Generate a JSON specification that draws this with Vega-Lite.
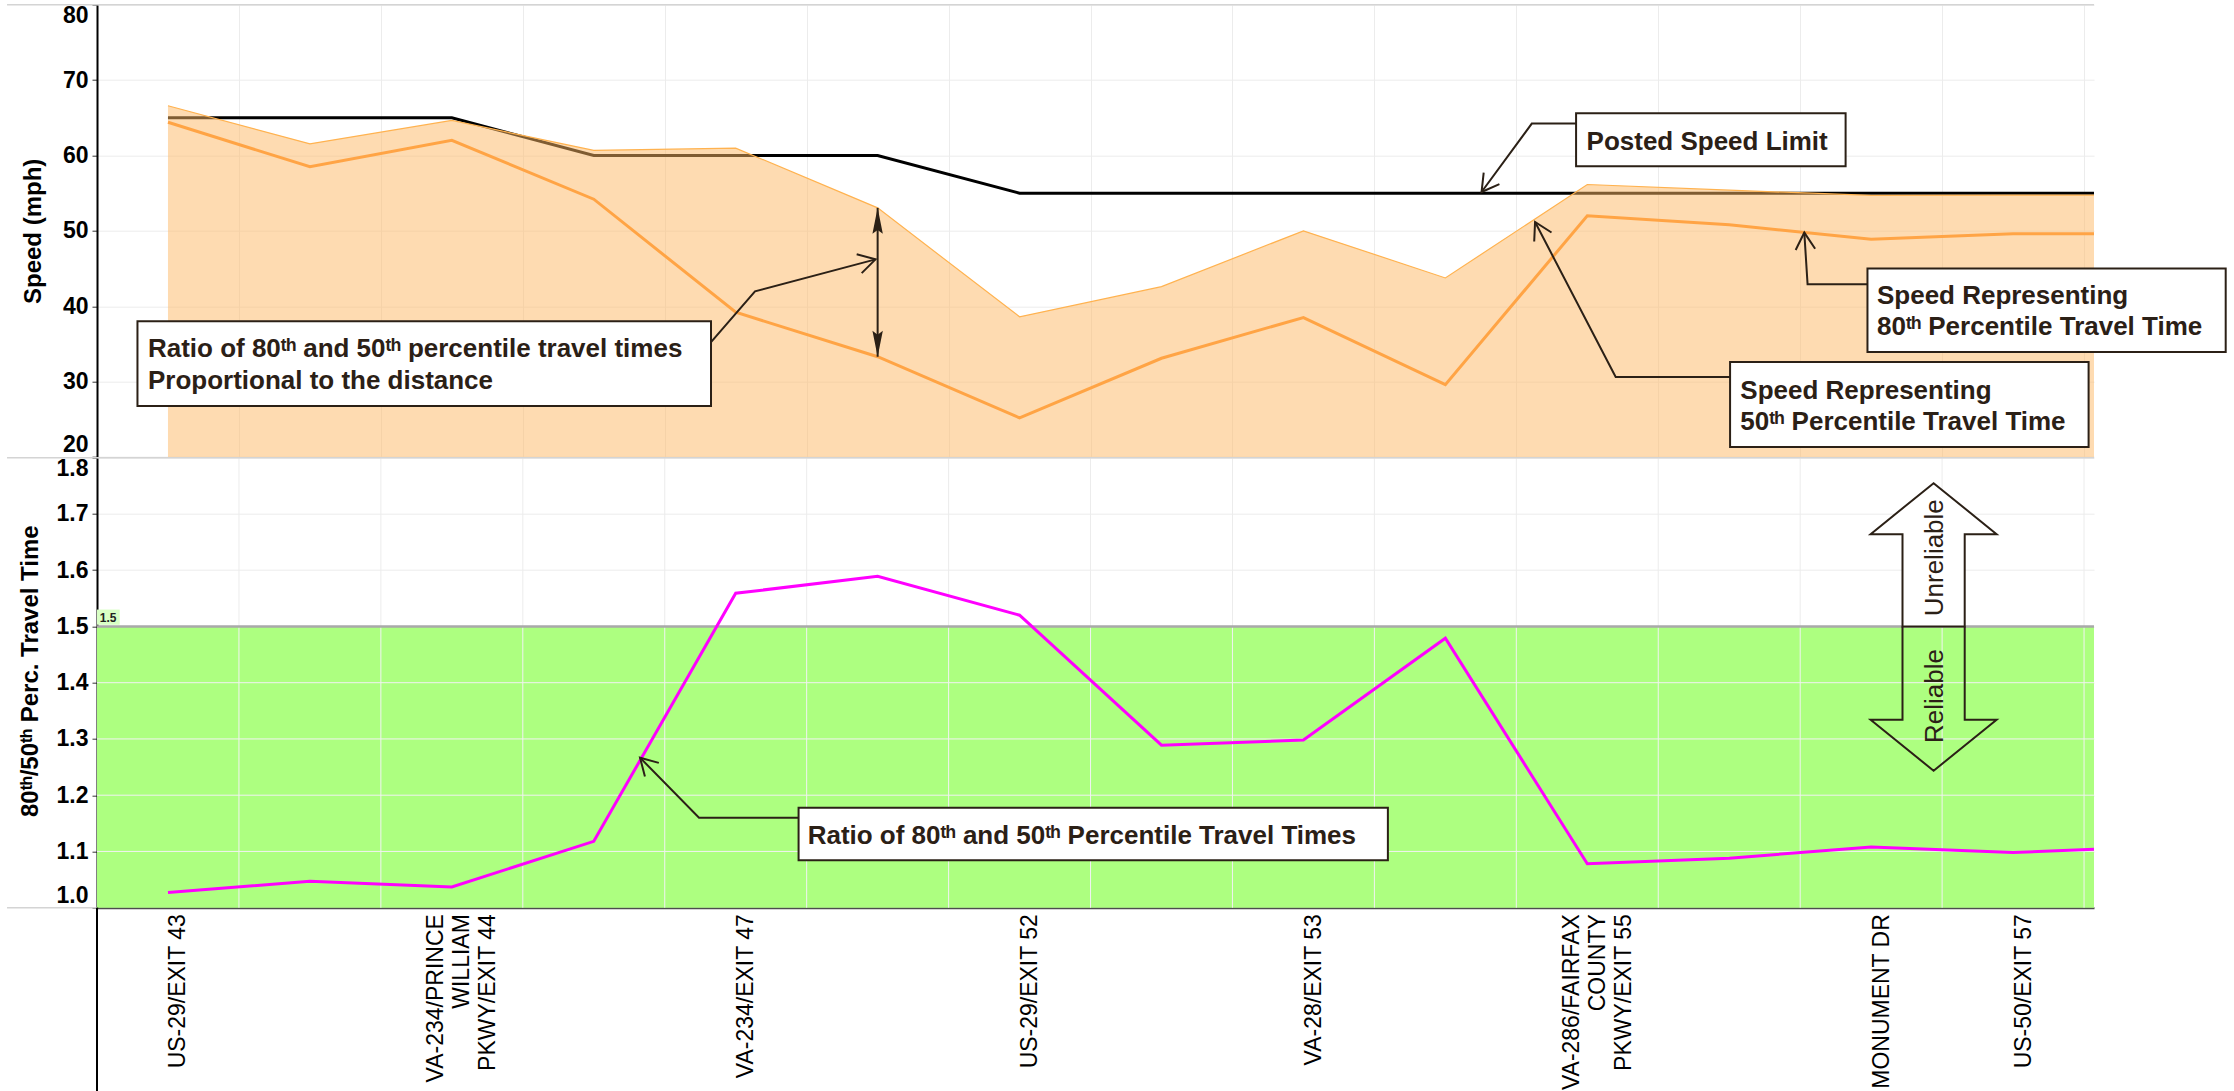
{
  "$schema": "https://vega.github.io/schema/vega-lite/v6.json",
  "background": "white",
  "padding": {"left": 6, "top": 3.7, "right": 6, "bottom": 0},
  "spacing": 0,
  "bounds": "flush",
  "config": {
    "view": {"stroke": null},
    "font": "Liberation Sans",
    "axis": {"labelFont": "Liberation Sans", "titleFont": "Liberation Sans", "labelColor": "#000000", "titleColor": "#000000"}
  },
  "datasets": {
    "speed": [
      {"pos": 0, "limit": 65, "s50": 66.6, "s80": 64.4, "ratio": 1.027},
      {"pos": 1, "limit": 65, "s50": 61.55, "s80": 58.5, "ratio": 1.047},
      {"pos": 2, "limit": 65, "s50": 64.65, "s80": 62.0, "ratio": 1.037},
      {"pos": 3, "limit": 60, "s50": 60.67, "s80": 54.2, "ratio": 1.118},
      {"pos": 4, "limit": 60, "s50": 60.97, "s80": 39.2, "ratio": 1.559},
      {"pos": 5, "limit": 60, "s50": 53.05, "s80": 33.3, "ratio": 1.589},
      {"pos": 6, "limit": 55, "s50": 38.6, "s80": 25.2, "ratio": 1.52},
      {"pos": 7, "limit": 55, "s50": 42.6, "s80": 33.1, "ratio": 1.289},
      {"pos": 8, "limit": 55, "s50": 50.0, "s80": 38.5, "ratio": 1.298},
      {"pos": 9, "limit": 55, "s50": 43.75, "s80": 29.6, "ratio": 1.479},
      {"pos": 10, "limit": 55, "s50": 56.15, "s80": 52.0, "ratio": 1.078},
      {"pos": 11, "limit": 55, "s50": 55.4, "s80": 50.8, "ratio": 1.088},
      {"pos": 12, "limit": 55, "s50": 54.7, "s80": 48.9, "ratio": 1.108},
      {"pos": 13, "limit": 55, "s50": 54.75, "s80": 49.6, "ratio": 1.098},
      {"pos": 13.57, "limit": 55, "s50": 54.75, "s80": 49.6, "ratio": 1.104}
    ],
    "vgrid": [
      {"g": 0.5}, {"g": 1.5}, {"g": 2.5}, {"g": 3.5}, {"g": 4.5}, {"g": 5.5}, {"g": 6.5},
      {"g": 7.5}, {"g": 8.5}, {"g": 9.5}, {"g": 10.5}, {"g": 11.5}, {"g": 12.5}, {"g": 13.5}
    ],
    "hgrid": [{"g": 1.1}, {"g": 1.2}, {"g": 1.3}, {"g": 1.4}],
    "boxesTop": [
      {"x1": 9.921, "x2": 11.82, "y1": 65.59, "y2": 58.56},
      {"x1": 11.974, "x2": 14.498, "y1": 44.99, "y2": 33.93},
      {"x1": 11.006, "x2": 13.532, "y1": 32.6, "y2": 21.32},
      {"x1": -0.215, "x2": 3.826, "y1": 38.0, "y2": 26.76}
    ],
    "textTop": [
      {"x": 9.995, "y": 60.68, "t": "Posted Speed Limit"},
      {"x": 12.041, "y": 40.25, "t": "Speed Representing"},
      {"x": 12.041, "y": 36.14, "t": "80\u1d57\u02b0 Percentile Travel Time"},
      {"x": 11.078, "y": 27.74, "t": "Speed Representing"},
      {"x": 11.078, "y": 23.54, "t": "50\u1d57\u02b0 Percentile Travel Time"},
      {"x": -0.141, "y": 33.26, "t": "Ratio of 80\u1d57\u02b0 and 50\u1d57\u02b0 percentile travel times"},
      {"x": -0.141, "y": 29.07, "t": "Proportional to the distance"}
    ],
    "leadersTop": [
      {"id": "P", "o": 0, "x": 9.921, "y": 64.23},
      {"id": "P", "o": 1, "x": 9.609, "y": 64.23},
      {"id": "P", "o": 2, "x": 9.255, "y": 55.15},
      {"id": "A", "o": 0, "x": 11.974, "y": 42.91},
      {"id": "A", "o": 1, "x": 11.552, "y": 42.91},
      {"id": "A", "o": 2, "x": 11.529, "y": 49.77},
      {"id": "B", "o": 0, "x": 11.006, "y": 30.61},
      {"id": "B", "o": 1, "x": 10.2, "y": 30.61},
      {"id": "B", "o": 2, "x": 9.632, "y": 51.17},
      {"id": "R", "o": 0, "x": 3.826, "y": 35.25},
      {"id": "R", "o": 1, "x": 4.136, "y": 41.98},
      {"id": "R", "o": 2, "x": 4.985, "y": 46.22}
    ],
    "headsTop": [
      {"x": 9.255, "y": 55.15, "dir": 216.3},
      {"x": 11.529, "y": 49.77, "dir": 356.3},
      {"x": 9.632, "y": 51.17, "dir": 332.5},
      {"x": 4.985, "y": 46.22, "dir": 75.1}
    ],
    "boxesBottom": [{"x1": 4.443, "x2": 8.595, "y1": 1.1778, "y2": 1.0843}],
    "textBottom": [{"x": 4.507, "y": 1.1138, "t": "Ratio of 80\u1d57\u02b0 and 50\u1d57\u02b0 Percentile Travel Times"}],
    "leadersBottom": [
      {"id": "Q", "o": 0, "x": 4.443, "y": 1.16},
      {"id": "Q", "o": 1, "x": 3.7415, "y": 1.16},
      {"id": "Q", "o": 2, "x": 3.326, "y": 1.2667}
    ],
    "headsBottom": [{"x": 3.326, "y": 1.2667, "dir": 315.5}],
    "arrowText": [
      {"x": 12.45, "y": 1.6222, "t": "Unreliable"},
      {"x": 12.45, "y": 1.3764, "t": "Reliable"}
    ]
  },
  "vconcat": [
    {
      "width": 1997,
      "height": 452.3,
      "layer": [
        {
          "data": {"name": "speed"},
          "mark": {"type": "line", "color": "#000000", "strokeWidth": 3},
          "encoding": {
            "x": {"field": "pos", "type": "quantitative",
              "scale": {"domain": [-0.5, 13.57], "nice": false, "zero": false},
              "axis": {"title": null, "values": [0.5, 1.5, 2.5, 3.5, 4.5, 5.5, 6.5, 7.5, 8.5, 9.5, 10.5, 11.5, 12.5, 13.5],
                "labels": false, "ticks": false, "domain": false, "grid": true, "gridColor": "#ececec", "gridWidth": 1}},
            "y": {"field": "limit", "type": "quantitative",
              "scale": {"domain": [20, 80], "nice": false, "zero": false},
              "axis": {"title": "Speed (mph)", "values": [20, 30, 40, 50, 60, 70, 80], "grid": true, "gridColor": "#ececec",
                "labelFlush": true, "labelFontSize": 23, "labelFontWeight": "bold", "labelPadding": 4,
                "tickSize": 5, "tickColor": "#333333", "domainColor": "#000000", "domainWidth": 2,
                "titleFontSize": 24, "titleFontWeight": "bold", "titlePadding": 17}}
          }
        },
        {
          "data": {"name": "speed"},
          "mark": {"type": "area", "fill": "#fdb863", "fillOpacity": 0.5, "line": {"color": "#ffb24f", "strokeWidth": 1.2}},
          "encoding": {
            "x": {"field": "pos", "type": "quantitative"},
            "y": {"field": "s50", "type": "quantitative"},
            "y2": {"datum": 20}
          }
        },
        {
          "data": {"name": "speed"},
          "mark": {"type": "line", "color": "#ffa445", "strokeWidth": 3},
          "encoding": {
            "x": {"field": "pos", "type": "quantitative"},
            "y": {"field": "s80", "type": "quantitative"}
          }
        },
        {
          "data": {"values": [{}]},
          "mark": {"type": "rule", "color": "#d4d4d4", "strokeWidth": 1.5},
          "encoding": {
            "x": {"datum": -1.134, "type": "quantitative"},
            "x2": {"datum": 13.57},
            "y": {"datum": 80, "type": "quantitative"}
          }
        },
        {
          "data": {"name": "speed"},
          "transform": [{"filter": "datum.pos == 5"}],
          "mark": {"type": "rule", "color": "#2b2016", "strokeWidth": 2},
          "encoding": {
            "x": {"field": "pos", "type": "quantitative"},
            "y": {"field": "s50", "type": "quantitative"},
            "y2": {"field": "s80"}
          }
        },
        {
          "data": {"name": "speed"},
          "transform": [{"filter": "datum.pos == 5"}],
          "mark": {"type": "point", "shape": "M0,0L0.4,2L0,1.7L-0.4,2Z", "size": 676, "filled": true, "color": "#2b2016", "opacity": 1, "angle": 0},
          "encoding": {
            "x": {"field": "pos", "type": "quantitative"},
            "y": {"field": "s50", "type": "quantitative"}
          }
        },
        {
          "data": {"name": "speed"},
          "transform": [{"filter": "datum.pos == 5"}],
          "mark": {"type": "point", "shape": "M0,0L0.4,2L0,1.7L-0.4,2Z", "size": 676, "filled": true, "color": "#2b2016", "opacity": 1, "angle": 180},
          "encoding": {
            "x": {"field": "pos", "type": "quantitative"},
            "y": {"field": "s80", "type": "quantitative"}
          }
        },
        {
          "data": {"name": "leadersTop"},
          "mark": {"type": "line", "color": "#2b2016", "strokeWidth": 2},
          "encoding": {
            "x": {"field": "x", "type": "quantitative"},
            "y": {"field": "y", "type": "quantitative"},
            "detail": {"field": "id"},
            "order": {"field": "o"}
          }
        },
        {
          "data": {"name": "headsTop"},
          "mark": {"type": "point", "shape": "M-0.5,0.866L0,0L0.5,0.866", "size": 1521, "filled": false, "stroke": "#2b2016", "strokeWidth": 2, "opacity": 1},
          "encoding": {
            "x": {"field": "x", "type": "quantitative"},
            "y": {"field": "y", "type": "quantitative"},
            "angle": {"field": "dir", "type": "quantitative", "scale": null}
          }
        },
        {
          "data": {"name": "boxesTop"},
          "mark": {"type": "rect", "fill": "#ffffff", "stroke": "#2b2016", "strokeWidth": 2},
          "encoding": {
            "x": {"field": "x1", "type": "quantitative"},
            "x2": {"field": "x2"},
            "y": {"field": "y1", "type": "quantitative"},
            "y2": {"field": "y2"}
          }
        },
        {
          "data": {"name": "textTop"},
          "mark": {"type": "text", "align": "left", "baseline": "alphabetic", "fontSize": 26, "fontWeight": "bold", "font": "Liberation Sans", "color": "#2b2016"},
          "encoding": {
            "x": {"field": "x", "type": "quantitative"},
            "y": {"field": "y", "type": "quantitative"},
            "text": {"field": "t"}
          }
        }
      ]
    },
    {
      "width": 1997,
      "height": 450,
      "layer": [
        {
          "data": {"values": [{}]},
          "mark": {"type": "rect", "fill": "#adff80"},
          "encoding": {
            "x": {"datum": -0.5, "type": "quantitative"},
            "x2": {"datum": 13.57},
            "y": {"datum": 1.0, "type": "quantitative"},
            "y2": {"datum": 1.5}
          }
        },
        {
          "data": {"name": "vgrid"},
          "mark": {"type": "rule", "color": "#ececec", "strokeWidth": 1},
          "encoding": {
            "x": {"field": "g", "type": "quantitative"},
            "y": {"datum": 1.5, "type": "quantitative"},
            "y2": {"datum": 1.8}
          }
        },
        {
          "data": {"name": "vgrid"},
          "mark": {"type": "rule", "color": "#f2f2f2", "strokeWidth": 1},
          "encoding": {
            "x": {"field": "g", "type": "quantitative"},
            "y": {"datum": 1.0, "type": "quantitative"},
            "y2": {"datum": 1.5}
          }
        },
        {
          "data": {"name": "hgrid"},
          "mark": {"type": "rule", "color": "#f2f2f2", "strokeWidth": 1},
          "encoding": {
            "y": {"field": "g", "type": "quantitative"},
            "x": {"datum": -0.5, "type": "quantitative"},
            "x2": {"datum": 13.57}
          }
        },
        {
          "data": {"values": [{}]},
          "mark": {"type": "rule", "color": "#a9a9a9", "strokeWidth": 2.5},
          "encoding": {
            "y": {"datum": 1.5, "type": "quantitative"},
            "x": {"datum": -0.5, "type": "quantitative"},
            "x2": {"datum": 13.57}
          }
        },
        {
          "data": {"values": [{}]},
          "mark": {"type": "rect", "fill": "#d8ffc4"},
          "encoding": {
            "x": {"datum": -0.5, "type": "quantitative"},
            "x2": {"datum": -0.34},
            "y": {"datum": 1.503, "type": "quantitative"},
            "y2": {"datum": 1.53}
          }
        },
        {
          "data": {"values": [{}]},
          "mark": {"type": "text", "text": "1.5", "align": "left", "baseline": "alphabetic", "fontSize": 12, "fontWeight": "bold", "color": "#222222"},
          "encoding": {
            "x": {"datum": -0.48, "type": "quantitative"},
            "y": {"datum": 1.508, "type": "quantitative"}
          }
        },
        {
          "data": {"values": [{}]},
          "mark": {"type": "rule", "color": "#d4d4d4", "strokeWidth": 1.5},
          "encoding": {
            "x": {"datum": -1.134, "type": "quantitative"},
            "x2": {"datum": 13.57},
            "y": {"datum": 1.8, "type": "quantitative"}
          }
        },
        {
          "data": {"values": [{}]},
          "mark": {"type": "rule", "color": "#d4d4d4", "strokeWidth": 1.5},
          "encoding": {
            "x": {"datum": -1.134, "type": "quantitative"},
            "x2": {"datum": -0.5},
            "y": {"datum": 1.0, "type": "quantitative"}
          }
        },
        {
          "data": {"name": "speed"},
          "mark": {"type": "line", "color": "#ff00ff", "strokeWidth": 3},
          "encoding": {
            "x": {"field": "pos", "type": "quantitative",
              "scale": {"domain": [-0.5, 13.57], "nice": false, "zero": false},
              "axis": {"title": null, "values": [0, 2, 4, 6, 8, 10, 12, 13], "grid": false, "ticks": false, "tickSize": 0,
                "domain": true, "domainColor": "#4d4d4d", "domainWidth": 2,
                "labelAngle": 270, "labelFontSize": 23, "labelFontWeight": "normal", "labelPadding": 6,
                "labelOffset": {"condition": {"test": "datum.value == 2 || datum.value == 10", "value": -16}, "value": 10},
                "labelLineHeight": 26, "labelOverlap": false, "labelFlush": false, "labelBound": false,
                "labelExpr": "datum.value == 0 ? 'US-29/EXIT 43' : datum.value == 2 ? ['VA-234/PRINCE', 'WILLIAM', 'PKWY/EXIT 44'] : datum.value == 4 ? 'VA-234/EXIT 47' : datum.value == 6 ? 'US-29/EXIT 52' : datum.value == 8 ? 'VA-28/EXIT 53' : datum.value == 10 ? ['VA-286/FAIRFAX', 'COUNTY', 'PKWY/EXIT 55'] : datum.value == 12 ? 'MONUMENT DR' : datum.value == 13 ? 'US-50/EXIT 57' : ''"}},
            "y": {"field": "ratio", "type": "quantitative",
              "scale": {"domain": [1.0, 1.8], "nice": false, "zero": false},
              "axis": {"title": "80\u1d57\u02b0/50\u1d57\u02b0 Perc. Travel Time", "values": [1.0, 1.1, 1.2, 1.3, 1.4, 1.5, 1.6, 1.7, 1.8], "format": ".1f",
                "grid": true, "gridColor": "#ececec",
                "labelFlush": true, "labelFontSize": 23, "labelFontWeight": "bold", "labelPadding": 4,
                "tickSize": 5, "tickColor": "#333333", "domainColor": "#000000", "domainWidth": 2,
                "titleFontSize": 24, "titleFontWeight": "bold", "titlePadding": 14, "titleY": 213}}
          }
        },
        {
          "data": {"name": "leadersBottom"},
          "mark": {"type": "line", "color": "#2b2016", "strokeWidth": 2},
          "encoding": {
            "x": {"field": "x", "type": "quantitative"},
            "y": {"field": "y", "type": "quantitative"},
            "detail": {"field": "id"},
            "order": {"field": "o"}
          }
        },
        {
          "data": {"name": "headsBottom"},
          "mark": {"type": "point", "shape": "M-0.5,0.866L0,0L0.5,0.866", "size": 1521, "filled": false, "stroke": "#2b2016", "strokeWidth": 2, "opacity": 1},
          "encoding": {
            "x": {"field": "x", "type": "quantitative"},
            "y": {"field": "y", "type": "quantitative"},
            "angle": {"field": "dir", "type": "quantitative", "scale": null}
          }
        },
        {
          "data": {"name": "boxesBottom"},
          "mark": {"type": "rect", "fill": "#ffffff", "stroke": "#2b2016", "strokeWidth": 2},
          "encoding": {
            "x": {"field": "x1", "type": "quantitative"},
            "x2": {"field": "x2"},
            "y": {"field": "y1", "type": "quantitative"},
            "y2": {"field": "y2"}
          }
        },
        {
          "data": {"name": "textBottom"},
          "mark": {"type": "text", "align": "left", "baseline": "alphabetic", "fontSize": 26, "fontWeight": "bold", "font": "Liberation Sans", "color": "#2b2016"},
          "encoding": {
            "x": {"field": "x", "type": "quantitative"},
            "y": {"field": "y", "type": "quantitative"},
            "text": {"field": "t"}
          }
        },
        {
          "data": {"values": [{}]},
          "mark": {"type": "point", "shape": "M0,-1.99L0.875,-1.282L0.432,-1.282L0.432,0L-0.432,0L-0.432,-1.282L-0.875,-1.282Z", "size": 20736, "filled": true, "fill": "#ffffff", "stroke": "#2b2016", "strokeWidth": 2, "opacity": 1},
          "encoding": {
            "x": {"datum": 12.44, "type": "quantitative"},
            "y": {"datum": 1.5, "type": "quantitative"}
          }
        },
        {
          "data": {"values": [{}]},
          "mark": {"type": "point", "shape": "M-0.432,0L-0.432,1.296L-0.875,1.296L0,2.004L0.875,1.296L0.432,1.296L0.432,0", "size": 20736, "filled": false, "stroke": "#2b2016", "strokeWidth": 2, "opacity": 1},
          "encoding": {
            "x": {"datum": 12.44, "type": "quantitative"},
            "y": {"datum": 1.5, "type": "quantitative"}
          }
        },
        {
          "data": {"name": "arrowText"},
          "mark": {"type": "text", "angle": 270, "align": "center", "baseline": "middle", "fontSize": 26, "fontWeight": "normal", "font": "Liberation Sans", "color": "#2b2016"},
          "encoding": {
            "x": {"field": "x", "type": "quantitative"},
            "y": {"field": "y", "type": "quantitative"},
            "text": {"field": "t"}
          }
        },
        {
          "data": {"values": [{}]},
          "mark": {"type": "rule", "color": "#000000", "strokeWidth": 2},
          "encoding": {
            "x": {"datum": -0.5, "type": "quantitative"},
            "y": {"datum": 1.0, "type": "quantitative"},
            "y2": {"datum": 0.672}
          }
        }
      ]
    }
  ]
}
